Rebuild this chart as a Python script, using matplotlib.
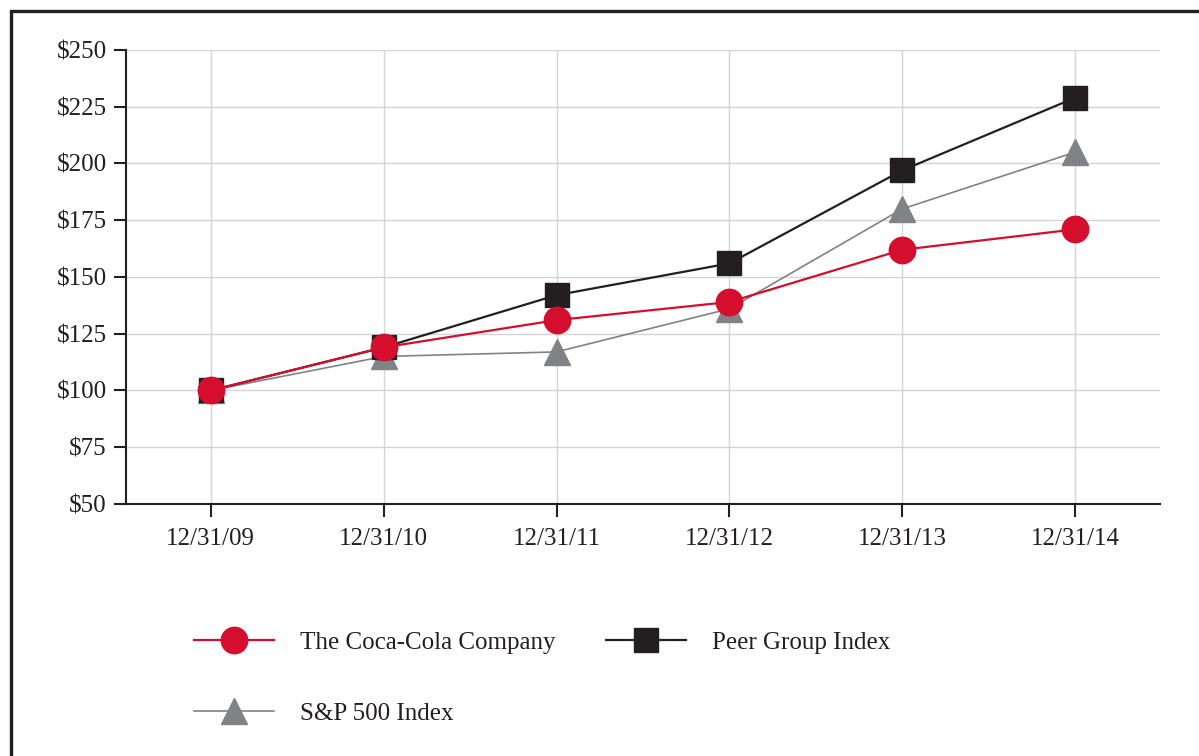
import matplotlib
matplotlib.use("Agg")
import matplotlib.pyplot as plt
from matplotlib.patches import Rectangle
from matplotlib.ticker import FuncFormatter

# data
dates = ["12/31/09", "12/31/10", "12/31/11", "12/31/12", "12/31/13", "12/31/14"]
coke = [100, 119, 131, 139, 162, 171]
peer = [100, 119, 142, 156, 197, 229]
sp500 = [100, 115, 117, 136, 180, 205]
y_ticks = [50, 75, 100, 125, 150, 175, 200, 225, 250]

RED = "#d40e2c"
BLACK = "#231f20"
GRAY = "#808285"

plt.rcParams["font.family"] = ["Liberation Serif", "DejaVu Serif"]

W, H = 1199, 756
fig = plt.figure(figsize=(W / 100, H / 100), dpi=100)
ax = fig.add_axes([126 / W, 1 - 504 / H, (1160 - 126) / W, (504 - 50) / H])

x = list(range(len(dates)))
l_sp, = ax.plot(x, sp500, color=GRAY, lw=1.2, marker="^", ms=19,
                mec=GRAY, mfc=GRAY, zorder=3, label="S&P 500 Index")
l_peer, = ax.plot(x, peer, color=BLACK, lw=1.6, marker="s", ms=17.5,
                  mec=BLACK, mfc=BLACK, zorder=4, label="Peer Group Index")
l_ko, = ax.plot(x, coke, color=RED, lw=1.6, marker="o", ms=19,
                mec=RED, mfc=RED, zorder=5, label="The Coca-Cola Company")

ax.set_xlim(-0.49, 5.49)
ax.set_ylim(50, 250)
ax.set_xticks(x)
ax.set_xticklabels(dates)
ax.set_yticks(y_ticks)
ax.yaxis.set_major_formatter(FuncFormatter(lambda v, p: "$%d" % v))

ax.grid(True, color="#d4d4d4", lw=1.0, zorder=0)
ax.set_axisbelow(True)
for s in ["top", "right"]:
    ax.spines[s].set_visible(False)
for s in ["left", "bottom"]:
    ax.spines[s].set_color(BLACK)
    ax.spines[s].set_linewidth(1.5)
ax.tick_params(axis="both", direction="out", length=9, width=1.5,
               color=BLACK, labelsize=18, labelcolor=BLACK, pad=5)
ax.tick_params(axis="x", pad=8)

# legend: two rows, Coca-Cola and Peer on top, S&P below
fig.legend([l_ko, l_sp, l_peer],
           ["The Coca-Cola Company", "S&P 500 Index", "Peer Group Index"],
           ncol=2, loc="upper left", bbox_to_anchor=(184 / W, 1 - 621 / H),
           frameon=False, fontsize=18, handlelength=3.2, handletextpad=1.05,
           labelspacing=1.95, columnspacing=2.0, borderaxespad=0,
           labelcolor=BLACK)

# outer frame
fig.patches.append(Rectangle((11 / W, -0.05), 1.2, 1 - 11 / H + 0.05,
                             transform=fig.transFigure, fill=False,
                             ec=BLACK, lw=2.4))

fig.savefig("out.png", dpi=100)
